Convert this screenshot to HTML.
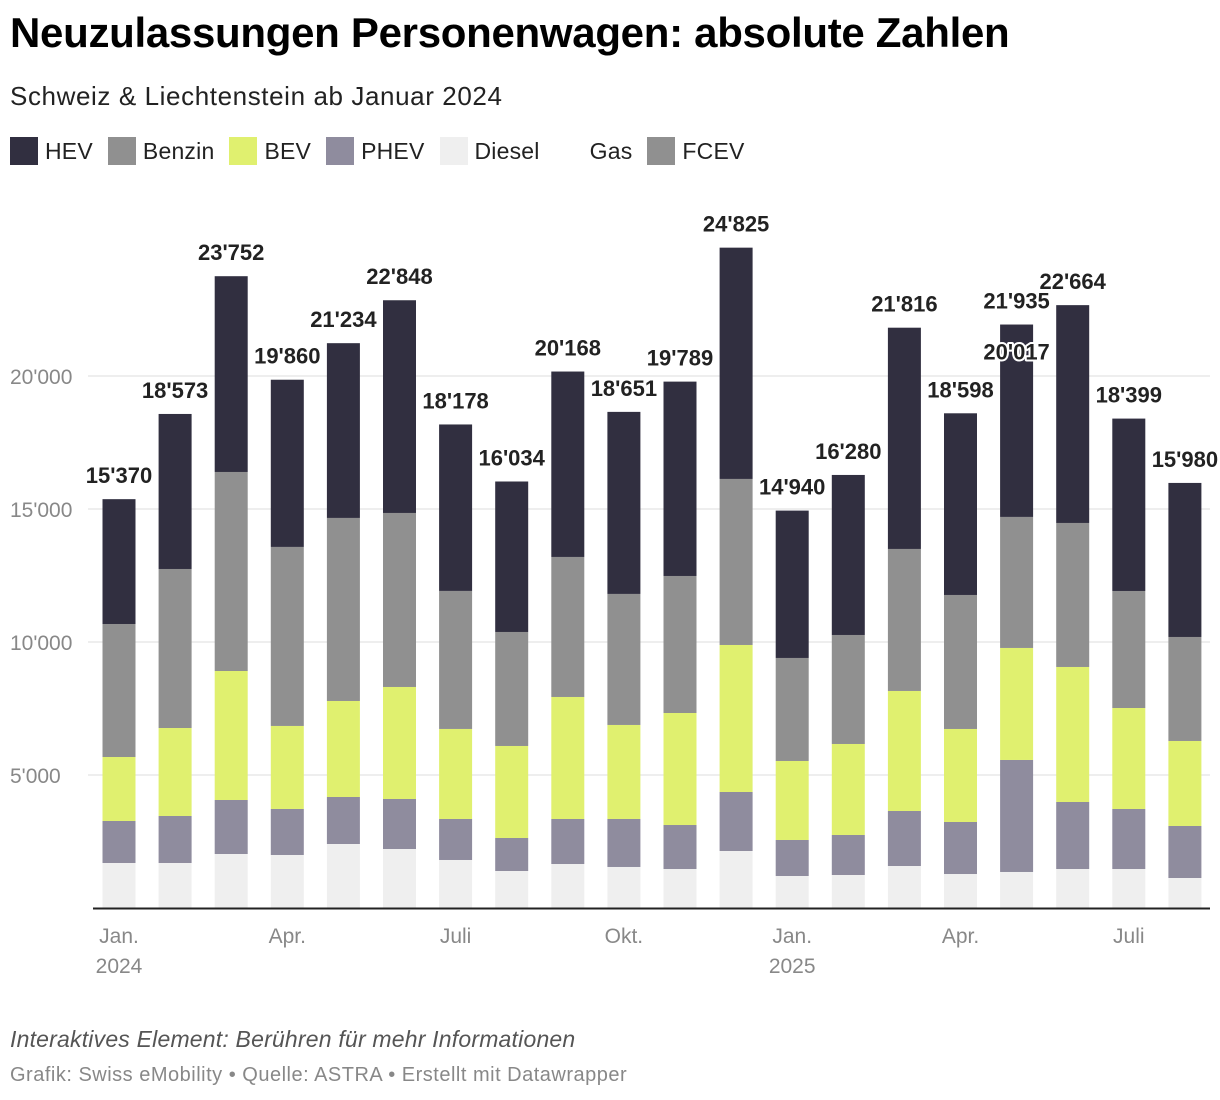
<!DOCTYPE html>
<html><head><meta charset="utf-8">
<style>
body{margin:0;background:#fff;width:1220px;height:1100px;overflow:hidden;font-family:"Liberation Sans",sans-serif;}
h1{position:absolute;left:10px;top:9px;margin:0;font-size:42px;font-weight:bold;color:#000;letter-spacing:-0.3px}
.sub{position:absolute;left:10px;top:81px;font-size:26px;color:#222;letter-spacing:0.6px}
.legend{position:absolute;left:10px;top:137px;display:flex;font-size:23px;color:#222;align-items:center;letter-spacing:0.2px}
.li{display:flex;align-items:center;margin-right:15px}
.sw{width:28px;height:28px;margin-right:7px}
.note{position:absolute;left:10px;top:1026px;font-size:23px;font-style:italic;color:#555;letter-spacing:0.2px}
.src{position:absolute;left:10px;top:1064px;font-size:20px;color:#888;letter-spacing:0.5px}
</style></head><body>
<h1>Neuzulassungen Personenwagen: absolute Zahlen</h1>
<div class="sub">Schweiz &amp; Liechtenstein ab Januar 2024</div>
<div class="legend">
<div class="li"><div class="sw" style="background:#312f40"></div>HEV</div>
<div class="li"><div class="sw" style="background:#909090"></div>Benzin</div>
<div class="li"><div class="sw" style="background:#e0f06f"></div>BEV</div>
<div class="li"><div class="sw" style="background:#8f8c9e"></div>PHEV</div>
<div class="li"><div class="sw" style="background:#efefef"></div>Diesel</div>
<div class="li"><div class="sw" style="background:#fff"></div>Gas</div>
<div class="li"><div class="sw" style="background:#909090"></div>FCEV</div>
</div>
<svg id="chart" width="1220" height="1100" style="position:absolute;left:0;top:0"></svg>
<div class="note">Interaktives Element: Berühren für mehr Informationen</div>
<div class="src">Grafik: Swiss eMobility • Quelle: ASTRA • Erstellt mit Datawrapper</div>
<script>
const diesel=[1692,1692,2030,1993,2406,2218,1805,1391,1654,1542,1466,2143,1203,1241,1579,1278,1354,1466,1466,1128];
const phev=[1579,1767,2030,1730,1767,1880,1542,1241,1692,1805,1654,2218,1354,1504,2068,1955,4211,2519,2256,1955];
const bev=[2406,3308,4850,3121,3610,4211,3384,3459,4587,3534,4211,5527,2970,3421,4512,3497,4211,5076,3797,3196];
const benzin=[5000,5978,7482,6730,6881,6542,5189,4286,5264,4926,5151,6242,3873,4098,5339,5038,4926,5414,4399,3910];
const totals=[15370,18573,23752,19860,21234,22848,18178,16034,20168,18651,19789,24825,14940,16280,21816,18598,21935,22664,18399,15980];
const totalLabels=["15'370","18'573","23'752","19'860","21'234","22'848","18'178","16'034","20'168","18'651","19'789","24'825","14'940","16'280","21'816","18'598","21'935","22'664","18'399","15'980"];
const extraIdx=[16];
const extraValues=[20017];
const extraLabels=["20'017"];
const yTicks=[5000,10000,15000,20000];
const yTickLabels=["5'000","10'000","15'000","20'000"];
const xTickIdx=[0,3,6,9,12,15,18];
const xTickLabels=["Jan.","Apr.","Juli","Okt.","Jan.","Apr.","Juli"];
const yearIdx=[0,12];
const yearLabels=["2024","2025"];

const NS="http://www.w3.org/2000/svg";
const svg=document.getElementById('chart');
const y=v=>908-v*133/5000;
const xc=i=>119+i*56.1;
const bw=33;
function mk(t,a){const e=document.createElementNS(NS,t);for(const k in a)e.setAttribute(k,a[k]);svg.appendChild(e);return e;}
yTicks.forEach((t,i)=>{
  const l=mk('line',{x1:88,x2:1210,y1:y(t),y2:y(t),stroke:'#ddd','stroke-width':1});
  
  
  const tx=mk('text',{x:10,y:y(t)+8,'font-size':21,fill:'#888','font-family':'Liberation Sans, sans-serif'});
  tx.textContent=yTickLabels[i];
  
  
});
const series=[[diesel,'#efefef','diesel'],[phev,'#8f8c9e','phev'],[bev,'#e0f06f','bev'],[benzin,'#909090','benzin']];
totals.forEach((tot,i)=>{
  let cum=0;
  series.forEach(([arr,col,nm])=>{
    const r=mk('rect',{x:xc(i)-bw/2,y:y(cum+arr[i]),width:bw,height:arr[i]*133/5000,fill:col});
    
    
    cum+=arr[i];
  });
  const h=mk('rect',{x:xc(i)-bw/2,y:y(tot),width:bw,height:(tot-cum)*133/5000,fill:'#312f40'});
  
  
});
function lab(xv,v,txt,name){
  const t=mk('text',{x:xv,y:y(v)-16,'text-anchor':'middle','font-size':22,'font-weight':'bold',fill:'#222',stroke:'#fff','stroke-width':4,'paint-order':'stroke','stroke-linejoin':'round','font-family':'Liberation Sans, sans-serif'});
  t.textContent=txt;
  
  
}
totals.forEach((tot,i)=>lab(xc(i),tot,totalLabels[i],'total-label'));
extraIdx.forEach((idx,i)=>lab(xc(idx),extraValues[i],extraLabels[i],'extra-value-label'));
const ax=mk('line',{x1:93,x2:1210,y1:908.5,y2:908.5,stroke:'#222','stroke-width':2});


xTickIdx.forEach((idx,i)=>{
  const t=mk('text',{x:xc(idx),y:943,'text-anchor':'middle','font-size':21,fill:'#888','font-family':'Liberation Sans, sans-serif'});
  t.textContent=xTickLabels[i];
  
  
});
yearIdx.forEach((idx,i)=>{
  const t=mk('text',{x:xc(idx),y:973,'text-anchor':'middle','font-size':21,fill:'#888','font-family':'Liberation Sans, sans-serif'});
  t.textContent=yearLabels[i];
  
  
});
</script>
</body></html>
